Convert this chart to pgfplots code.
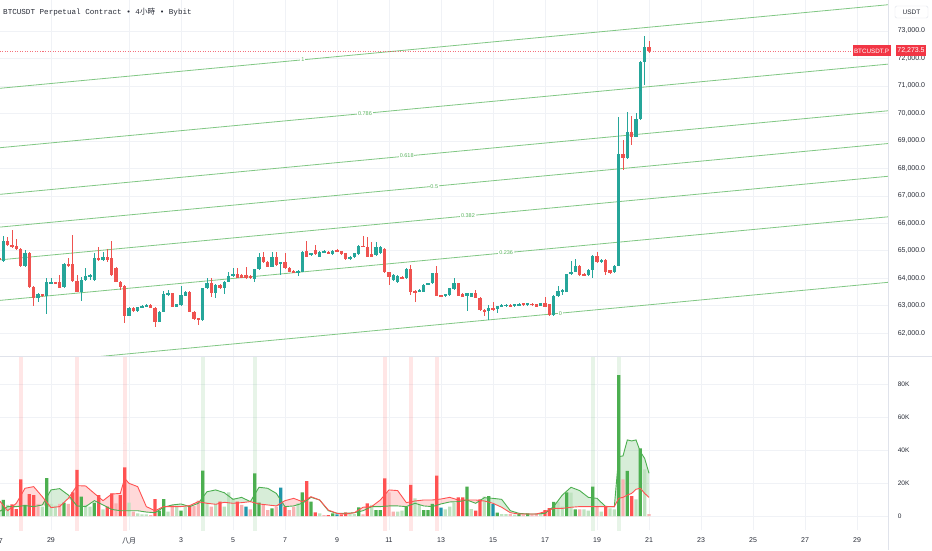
\documentclass[border=0pt]{standalone}
\usepackage{fontspec}
\setmainfont{Liberation Sans}
\newfontfamily\cjk{Noto Sans CJK TC}
\newfontfamily\mono{Liberation Mono}
\usepackage{pgfplots}
\pgfplotsset{compat=1.18}
\usepackage{pgfplotstable}

\definecolor{upc}{RGB}{38,166,154}
\definecolor{dnc}{RGB}{239,83,80}
\definecolor{fibc}{RGB}{129,199,132}
\definecolor{fibt}{RGB}{92,180,96}
\definecolor{gridc}{RGB}{240,242,246}
\definecolor{labc}{RGB}{40,44,55}
\definecolor{sepc}{RGB}{224,227,235}
\definecolor{vgc}{RGB}{76,175,80}
\definecolor{vrc}{RGB}{255,82,82}
\definecolor{lgc}{RGB}{190,226,191}
\definecolor{lrc}{RGB}{248,178,178}
\definecolor{blc}{RGB}{33,150,170}
\definecolor{lastc}{RGB}{242,54,69}

% k = candle index (4h candles, k=0 -> 27 Jul 00:00)
\pgfplotstableread{
k o h l c
1 64642 65540 64606 65358
6 64460 65030 64424 64909
9 63271 63450 63150 63417
11 63356 64023 62689 63854
12 63818 64023 63790 63854
15 63672 64540 63640 64509
19 63514 64060 63174 63939
20 63927 64363 63900 64084
21 64060 64160 63930 64121
22 63939 64909 63910 64727
24 64666 64945 64640 64763
30 62641 62940 62620 62907
32 62811 62970 62790 62944
33 62944 63030 62920 62992
34 62970 63060 62950 63029
37 62422 62810 62400 62786
38 62786 63538 62760 63417
39 63393 63575 63370 63453
41 62968 63080 62940 63053
42 63029 63720 63000 63393
43 63369 63540 63350 63514
47 62483 63660 62460 63635
48 63635 64023 63610 63818
50 63453 63780 63296 63757
52 63635 63900 63417 63878
53 63878 64242 63860 64084
54 64084 64363 64060 64169
59 63975 64350 63854 64327
60 64327 64909 64300 64763
63 64424 64970 64400 64763
65 64545 64600 64121 64581
69 64218 64290 64096 64266
70 64242 64990 64220 64970
72 64848 64940 64820 64909
74 64788 64990 64770 64970
75 64945 65030 64920 65006
77 64885 65030 64860 65006
81 64703 64810 64680 64788
82 64763 64930 64740 64909
83 64873 65210 64850 65188
87 64848 65334 64830 65127
88 64920 65170 64900 65140
91 63939 64140 63920 64121
92 63854 64120 63830 64096
94 63999 64360 63980 64339
97 63514 63600 63490 63575
98 63514 63780 63490 63757
99 63757 63840 63740 63818
100 63818 64200 63800 64181
103 63344 63440 63320 63417
104 63393 63660 63370 63635
105 63611 63999 63590 63818
108 63369 63470 62810 63453
109 63332 63480 63310 63453
113 62810 63029 62483 62907
115 62883 63010 62726 62992
116 62980 63050 62960 63029
117 62990 63060 62970 63035
119 62992 63075 62970 63053
120 63020 63090 63000 63065
122 63029 63110 63010 63090
125 63005 63110 62985 63090
128 62665 63380 62641 63356
129 63356 63720 63330 63538
130 63514 63600 63393 63575
131 63514 64170 63490 64145
132 64146 64630 64120 64241
133 64241 64700 64220 64459
136 64121 64330 64100 64303
137 64303 64840 64012 64813
139 64583 64690 64560 64667
142 64219 64480 64200 64459
143 64459 69881 64440 68513
145 68368 70041 68340 69314
147 69154 70005 69130 69798
148 69787 71900 69770 71883
149 71883 72829 71035 72429
}\upcandles

\pgfplotstableread{
k o h l c
0 64727 64788 64606 64654
2 65358 65516 65188 65212
3 65212 65758 65115 65152
4 65188 65430 65030 65067
5 65055 65090 64424 64460
7 64909 64970 63635 63696
8 63696 63720 62992 63296
10 63417 63440 63330 63356
13 63854 63880 63780 63805
14 63854 64121 63630 63660
16 64509 64727 64430 64460
17 64509 65576 63870 63902
18 63902 64121 63490 63514
23 64727 65152 64640 64666
25 64776 65067 64606 64679
26 64727 65358 64090 64121
27 64363 64400 63850 63878
28 63878 63900 63575 63696
29 63732 63760 62362 62641
31 62907 62940 62790 62811
35 63029 63060 62910 62932
36 62932 62960 62240 62422
40 63453 63480 62940 62968
44 63514 63540 62760 62786
45 62786 62810 62480 62507
46 62544 62570 62301 62483
49 63818 63999 63332 63453
51 63757 63780 63610 63635
55 64169 64387 64000 64023
56 64121 64140 64000 64023
57 64121 64424 63980 63999
58 64096 64120 63970 63999
61 64763 64970 64560 64581
62 64606 64630 64400 64424
64 64763 64970 64460 64484
66 64581 64909 64340 64363
67 64387 64410 64220 64242
68 64266 64290 64180 64205
71 64994 65358 64770 64788
73 65030 65212 64850 64873
76 64970 64990 64890 64909
78 65030 65050 64950 64970
79 64994 65010 64850 64873
80 64909 64930 64680 64703
84 65188 65540 65130 65152
85 65152 65516 64770 64788
86 64873 65334 64770 64788
89 65067 65090 64190 64218
90 64218 64240 63757 64060
93 64060 64080 63980 63999
95 64339 64484 63393 63514
96 63538 63560 63150 63453
101 64181 64460 63350 63369
102 63393 63410 63320 63344
106 63818 63840 63350 63369
107 63441 63460 63310 63332
110 63453 63575 63270 63296
111 63296 63310 62820 62847
112 62847 62870 62641 62762
114 62907 63126 62810 62835
118 63029 63050 62960 62980
121 63090 63110 63010 63029
123 63077 63100 63010 63029
124 63053 63070 62950 62968
126 63090 63332 62950 62968
127 63053 63070 62640 62665
134 64459 64480 64100 64121
135 64157 64180 64070 64095
138 64823 64969 64560 64583
140 64667 64690 64121 64241
141 64303 64320 64160 64183
144 68513 69033 67942 68389
146 69314 69918 68851 69154
150 72429 72636 72200 72273.5
}\dncandles

% volume by colour group
\pgfplotstableread{
k v
1 9700
6 6700
11 23000
15 8100
19 11700
22 8100
37 3200
38 10300
42 3200
47 27500
59 25900
60 8100
63 4600
70 14300
72 8700
77 1600
83 5300
87 3600
88 3600
94 5700
98 3600
99 3600
100 7300
108 17800
113 12100
115 2000
120 1200
122 1600
128 8500
131 14300
133 4000
137 17800
143 85400
145 27300
148 41000
}\volvg

\pgfplotstableread{
k v
3 7100
4 4200
5 22200
7 13300
8 12700
17 14300
18 27900
23 12700
25 5700
26 13700
28 12700
29 29500
36 10300
44 6300
51 8700
55 8700
66 5700
71 21200
73 2200
76 600
79 1000
80 2200
85 7700
89 22800
95 18800
101 24400
106 11300
107 11300
110 3200
111 10100
126 3600
127 4800
140 6100
146 12100
}\volvr

\pgfplotstableread{
k v
0 2600
2 6700
10 5700
12 7300
13 6300
20 6700
21 5700
24 4000
30 8100
32 1600
33 1000
34 1000
39 2600
41 5700
43 5700
48 8100
50 7300
52 5700
53 14300
54 10700
69 7700
74 1600
81 1200
82 1200
86 6700
92 2600
93 3200
96 10700
97 6700
103 4000
104 5700
105 8100
109 4200
112 11700
116 1200
117 1200
119 800
125 1600
129 8700
130 5700
132 14100
135 4000
136 3200
139 2600
141 4600
142 4000
147 10100
149 28300
}\vollg

\pgfplotstableread{
k v
9 7300
14 7300
16 7300
27 7700
31 2600
35 600
40 6700
45 6300
46 9300
49 5700
56 6700
58 4000
61 6700
62 3600
64 5700
67 3600
68 5700
75 600
84 1000
90 14300
91 2600
118 1200
121 1000
123 1000
124 1600
134 4000
138 5700
144 22200
150 1200
}\vollr

\pgfplotstableread{
k v
57 5700
65 17200
78 1000
102 5100
114 7300
}\volbl

% moving lines of the volume panel (green, red)
\pgfplotstableread{
k g r
0 2600 9700
2 5700 3200
4 5700 7700
6 6300 16800
8 5700 17800
10 6700 11700
12 15800 5100
14 16600 5700
16 12700 10700
18 6100 18400
20 5700 18200
22 9300 13700
24 6700 9300
26 4000 13300
28 3200 13700
29 3200 22800
30 3200 19800
32 3200 17800
34 2400 5700
36 2000 3200
38 5300 5700
40 6700 5700
42 7300 5700
44 5700 6300
46 7700 8700
48 14700 7700
50 15800 7100
52 14100 8300
54 10100 7700
56 11300 8100
58 8700 8700
60 17400 7300
62 16800 6700
64 13700 6100
66 5700 9300
68 6100 10700
70 7700 8700
72 11300 11700
74 9700 9700
76 3200 3600
78 1600 1600
80 1600 1200
82 2000 2000
84 3200 5300
86 5700 5700
88 5700 9700
90 6100 15800
92 6100 15400
94 5700 8100
96 7700 9100
98 6100 9700
100 5700 9700
102 7300 10300
104 8500 11300
106 8700 9700
108 9700 9700
110 7700 9700
112 11100 9100
114 10700 7700
116 10100 5300
118 3200 2000
120 1600 1200
122 1200 1200
124 1200 1200
126 1600 2600
128 5700 4600
130 12700 4600
132 17400 5300
134 15400 5700
136 11300 5700
138 10700 5700
140 5700 5700
142 5700 5700
143 36000 10700
144 36400 11300
145 46100 12700
146 45500 13700
147 46100 16200
148 39000 16800
149 34900 13700
150 25900 11300
}\vollines

\begin{document}
\begin{tikzpicture}
\useasboundingbox (0,0) rectangle (932pt,550pt);
\clip (0,0) rectangle (932pt,550pt);
\fill[white] (0,0) rectangle (932pt,550pt);

% ---------------- price panel ----------------
\begin{axis}[
  name=price, at={(0pt,194pt)}, anchor=south west,
  scale only axis, width=888pt, height=356pt,
  xmin=0.2308, xmax=205.154, ymin=61173, ymax=74128,
  axis line style={draw=none}, tick style={draw=none},
  xtick={0,12,30,42,54,66,78,90,102,114,126,138,150,162,174,186,198},
  xticklabels={},
  ytick={62000,63000,64000,65000,66000,67000,68000,69000,70000,71000,72000,73000},
  yticklabel pos=right, scaled y ticks=false,
  grid=major, major grid style={draw=gridc, line width=0.7pt},
  yticklabel style={font=\fontsize{7}{8}\selectfont, text=labc, anchor=west, xshift=6.3pt,
    /pgf/number format/fixed, /pgf/number format/fixed zerofill,
    /pgf/number format/precision=1, /pgf/number format/1000 sep={,},
    /pgf/number format/assume math mode=true},
]
% Fibonacci channel
\addplot[fibc, line width=0.8pt] coordinates {(0.2308,70915) (205.154,73956)}
  node[pos=0.341, fill=white, inner sep=0.8pt, text=fibt, font=\fontsize{5.5}{6}\selectfont] {1};
\addplot[fibc, line width=0.8pt] coordinates {(0.2308,68753) (205.154,71794)}
  node[pos=0.411, fill=white, inner sep=0.8pt, text=fibt, font=\fontsize{5.5}{6}\selectfont] {0.786};
\addplot[fibc, line width=0.8pt] coordinates {(0.2308,67056) (205.154,70097)}
  node[pos=0.458, fill=white, inner sep=0.8pt, text=fibt, font=\fontsize{5.5}{6}\selectfont] {0.618};
\addplot[fibc, line width=0.8pt] coordinates {(0.2308,65864) (205.154,68905)}
  node[pos=0.489, fill=white, inner sep=0.8pt, text=fibt, font=\fontsize{5.5}{6}\selectfont] {0.5};
\addplot[fibc, line width=0.8pt] coordinates {(0.2308,64672) (205.154,67713)}
  node[pos=0.527, fill=white, inner sep=0.8pt, text=fibt, font=\fontsize{5.5}{6}\selectfont] {0.382};
\addplot[fibc, line width=0.8pt] coordinates {(0.2308,63197) (205.154,66238)}
  node[pos=0.570, fill=white, inner sep=0.8pt, text=fibt, font=\fontsize{5.5}{6}\selectfont] {0.236};
\addplot[fibc, line width=0.8pt] coordinates {(0.2308,60813) (205.154,63854)}
  node[pos=0.631, fill=white, inner sep=0.8pt, text=fibt, font=\fontsize{5.5}{6}\selectfont] {0};
% last price line
\addplot[lastc, line width=0.6pt, dash pattern=on 1pt off 1.5pt, opacity=0.7] coordinates {(0.2308,72273.5) (205.154,72273.5)};
% wicks
\addplot[only marks, mark=*, mark size=0pt, mark options={draw=none, fill=none},
  error bars/.cd, y dir=both, y explicit, error mark=none,
  error bar style={draw=upc, line width=0.9pt}]
  table[x=k, y expr={(\thisrow{h}+\thisrow{l})/2}, y error expr={(\thisrow{h}-\thisrow{l})/2}] {\upcandles};
\addplot[only marks, mark=*, mark size=0pt, mark options={draw=none, fill=none},
  error bars/.cd, y dir=both, y explicit, error mark=none,
  error bar style={draw=dnc, line width=0.9pt}]
  table[x=k, y expr={(\thisrow{h}+\thisrow{l})/2}, y error expr={(\thisrow{h}-\thisrow{l})/2}] {\dncandles};
% bodies
\addplot[only marks, mark=*, mark size=0pt, mark options={draw=none, fill=none},
  error bars/.cd, y dir=both, y explicit, error mark=none,
  error bar style={draw=upc, line width=3.2pt}]
  table[x=k, y expr={(\thisrow{o}+\thisrow{c})/2}, y error expr={max(abs(\thisrow{c}-\thisrow{o})/2,18)}] {\upcandles};
\addplot[only marks, mark=*, mark size=0pt, mark options={draw=none, fill=none},
  error bars/.cd, y dir=both, y explicit, error mark=none,
  error bar style={draw=dnc, line width=3.2pt}]
  table[x=k, y expr={(\thisrow{o}+\thisrow{c})/2}, y error expr={max(abs(\thisrow{c}-\thisrow{o})/2,18)}] {\dncandles};
\end{axis}

% ---------------- volume panel ----------------
\begin{axis}[
  name=vol, at={(0pt,20pt)}, anchor=south west,
  scale only axis, width=888pt, height=173pt,
  xmin=0.2308, xmax=205.154, ymin=-8485, ymax=96364,
  axis line style={draw=none}, tick style={draw=none},
  xtick={0,12,30,42,54,66,78,90,102,114,126,138,150,162,174,186,198},
  xticklabels={27,29,{\cjk 八月},3,5,7,9,11,13,15,17,19,21,23,25,27,29},
  ytick={0,20000,40000,60000,80000},
  yticklabels={0,20K,40K,60K,80K},
  yticklabel pos=right, scaled y ticks=false, scaled x ticks=false,
  grid=major, major grid style={draw=gridc, line width=0.7pt},
  yticklabel style={font=\fontsize{6.5}{7}\selectfont, text=labc, anchor=west, xshift=6.3pt},
  xticklabel style={font=\fontsize{7}{8}\selectfont, text=labc, yshift=-4pt},
]
% shaded areas between the two lines: colour under each line, then white under the lower one
\addplot[fill=vgc, fill opacity=0.22, draw=none] table[x=k, y=g] {\vollines} \closedcycle;
\addplot[fill=vrc, fill opacity=0.22, draw=none] table[x=k, y=r] {\vollines} \closedcycle;
\addplot[fill=white, draw=none] table[x=k, y expr={min(\thisrow{g},\thisrow{r})}] {\vollines} \closedcycle;
% highlight bands
\addplot[only marks, mark=*, mark size=0pt, mark options={draw=none, fill=none},
  error bars/.cd, y dir=both, y fixed=60000, error mark=none,
  error bar style={draw=vrc, draw opacity=0.14, line width=4pt}]
  coordinates {(5,44000) (18,44000) (29,44000) (89,44000) (95,44000) (101,44000)};
\addplot[only marks, mark=*, mark size=0pt, mark options={draw=none, fill=none},
  error bars/.cd, y dir=both, y fixed=60000, error mark=none,
  error bar style={draw=vgc, draw opacity=0.13, line width=4pt}]
  coordinates {(47,44000) (59,44000) (137,44000) (143,44000)};
% bars
\addplot[ybar, bar width=3.2pt, bar shift=0pt, fill=lgc, draw=none] table[x=k, y=v] {\vollg};
\addplot[ybar, bar width=3.2pt, bar shift=0pt, fill=lrc, draw=none] table[x=k, y=v] {\vollr};
\addplot[ybar, bar width=3.2pt, bar shift=0pt, fill=vgc, draw=none] table[x=k, y=v] {\volvg};
\addplot[ybar, bar width=3.2pt, bar shift=0pt, fill=vrc, draw=none] table[x=k, y=v] {\volvr};
\addplot[ybar, bar width=3.2pt, bar shift=0pt, fill=blc, draw=none] table[x=k, y=v] {\volbl};
% lines
\addplot[vgc, line width=0.9pt] table[x=k, y=g] {\vollines};
\addplot[vrc, line width=0.9pt] table[x=k, y=r] {\vollines};
\end{axis}

% separators
\draw[sepc, line width=0.8pt] (0pt,193.5pt) -- (932pt,193.5pt);
\draw[sepc, line width=0.6pt] (888.5pt,0pt) -- (888.5pt,550pt);

% first date label, cut by the left edge
\node[text=labc, font=\fontsize{7}{8}\selectfont] at (-1pt,9pt) {27};

% title
\node[anchor=west, text=labc, font=\mono\fontsize{7.6}{8}\selectfont, inner sep=0pt] at (3pt,538pt)
  {BTCUSDT Perpetual Contract • 4{\cjk 小時} • Bybit};
% USDT box
\node[draw=sepc, rounded corners=1.5pt, fill=white, text=labc, font=\fontsize{6.5}{7}\selectfont,
  minimum width=33pt, minimum height=12pt, inner sep=1pt] at (911.5pt,538pt) {USDT};
% last price labels
\node[fill=lastc, text=white, font=\fontsize{6.3}{7}\selectfont, minimum height=11pt, inner sep=1.5pt]
  at (871.5pt,499pt) {BTCUSDT.P};
\node[fill=lastc, text=white, font=\fontsize{7}{8}\selectfont, minimum height=11pt, inner sep=1.5pt]
  at (911pt,499pt) {72,273.5};
\end{tikzpicture}
\end{document}
